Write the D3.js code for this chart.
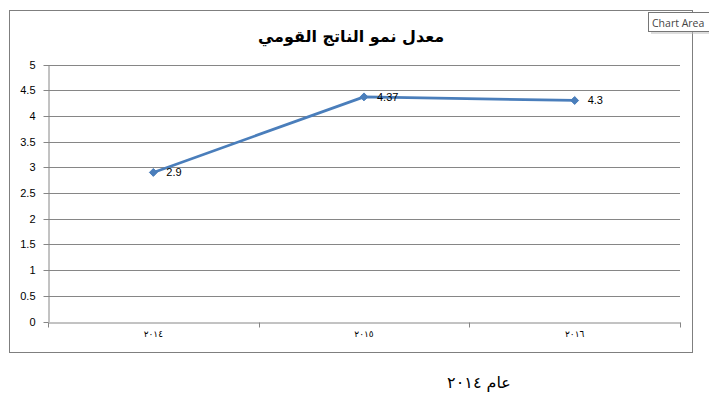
<!DOCTYPE html>
<html>
<head>
<meta charset="utf-8">
<script src="https://cdn.jsdelivr.net/npm/d3@7"></script>
<style>
  html, body { margin: 0; padding: 0; background: #fff; }
  svg { display: block; }
</style>
</head>
<body>
<svg id="chart" width="709" height="420"></svg>
<script>
const title = "معدل نمو الناتج القومي";
const categories = ["٢٠١٤", "٢٠١٥", "٢٠١٦"];
const values = [2.9, 4.37, 4.3];
const valueLabels = ["2.9", "4.37", "4.3"];
const yTicks = [0, 0.5, 1, 1.5, 2, 2.5, 3, 3.5, 4, 4.5, 5];
const caption = "عام ٢٠١٤";

const svg = d3.select("#chart");

// chart area border
svg.append("rect")
  .attr("x", 9.5).attr("y", 10.5).attr("width", 683).attr("height", 342)
  .attr("fill", "#fff").attr("stroke", "#7f7f7f").attr("stroke-width", 1);

const plot = { left: 48, right: 680, top: 64.5, bottom: 321.5 };

const x = d3.scaleBand().domain(categories).range([plot.left, plot.right]).paddingInner(0).paddingOuter(0);
const y = d3.scaleLinear().domain([0, 5]).range([plot.bottom, plot.top]);

// gridlines
svg.append("g").selectAll("line").data(yTicks.filter(d => d > 0)).join("line")
  .attr("x1", plot.left).attr("x2", plot.right)
  .attr("y1", d => Math.round(y(d)) + 0.5).attr("y2", d => Math.round(y(d)) + 0.5)
  .attr("stroke", "#868686").attr("stroke-width", 1);

// y axis
const yAxis = svg.append("g").attr("transform", `translate(${plot.left + 0.5},0)`)
  .call(d3.axisLeft(y).tickValues(yTicks).tickSize(5).tickSizeOuter(0).tickFormat(d3.format("")));
yAxis.select(".domain").attr("stroke", "#868686");
yAxis.selectAll(".tick line").attr("stroke", "#868686");
yAxis.selectAll(".tick").attr("transform", d => `translate(0,${Math.round(y(d)) + 0.5})`);
yAxis.selectAll("text").attr("font-family", "Liberation Sans, Arial, sans-serif").attr("font-size", 11)
  .attr("fill", "#000").attr("x", -13);

// x axis
const xAxis = svg.append("g").attr("transform", `translate(0,${Math.round(plot.bottom) + 0.5})`)
  .call(d3.axisBottom(x).tickSize(0).tickSizeOuter(0));
xAxis.select(".domain").attr("stroke", "#868686");
xAxis.selectAll(".tick text").attr("font-family", "DejaVu Sans, sans-serif").attr("font-size", 9)
  .attr("fill", "#000").attr("dy", "0").attr("y", 14);
// category boundary ticks
const bounds = categories.map(c => x(c)).concat([x(categories[categories.length - 1]) + x.bandwidth()]);
xAxis.append("g").selectAll("line").data(bounds).join("line")
  .attr("x1", d => Math.round(d) + 0.5).attr("x2", d => Math.round(d) + 0.5)
  .attr("y1", 0).attr("y2", 5).attr("stroke", "#868686");

// line
const cx = d => x(d) + x.bandwidth() / 2;
const pts = categories.map((c, i) => [cx(c), y(values[i])]);
svg.append("path").datum(pts)
  .attr("d", d3.line())
  .attr("fill", "none").attr("stroke", "#4A7EBB").attr("stroke-width", 2.75)
  .attr("stroke-linejoin", "round");

// markers
svg.append("g").selectAll("path").data(pts).join("path")
  .attr("d", d3.symbol().type(d3.symbolDiamond2).size(40))
  .attr("transform", d => `translate(${d[0]},${d[1]})`)
  .attr("fill", "#4A7EBB").attr("stroke", "#4A7EBB").attr("stroke-width", 1);

// data labels
svg.append("g").selectAll("text").data(pts).join("text")
  .attr("x", d => d[0] + 13).attr("y", d => d[1] + 4)
  .attr("font-family", "Liberation Sans, Arial, sans-serif").attr("font-size", 11).attr("fill", "#000")
  .text((d, i) => valueLabels[i]);

// title
svg.append("text").attr("x", 351).attr("y", 42).attr("text-anchor", "middle")
  .attr("font-family", "DejaVu Sans, sans-serif").attr("font-weight", "bold").attr("font-size", 16)
  .attr("direction", "rtl").text(title);

// caption below chart
svg.append("text").attr("x", 479).attr("y", 388).attr("text-anchor", "middle")
  .attr("font-family", "DejaVu Sans, sans-serif").attr("font-size", 16)
  .attr("direction", "rtl").text(caption);

// "Chart Area" tooltip
const tip = svg.append("g");
tip.append("rect").attr("x", 651).attr("y", 15).attr("width", 60).attr("height", 19)
  .attr("fill", "#bbb").attr("opacity", 0.5);
tip.append("rect").attr("x", 648.5).attr("y", 12.5).attr("width", 62).attr("height", 19)
  .attr("fill", "#fff").attr("stroke", "#767676");
tip.append("text").attr("x", 652).attr("y", 26.5)
  .attr("font-family", "Open Sans, Liberation Sans, sans-serif").attr("font-size", 10.5).attr("fill", "#444")
  .text("Chart Area");
</script>
</body>
</html>
